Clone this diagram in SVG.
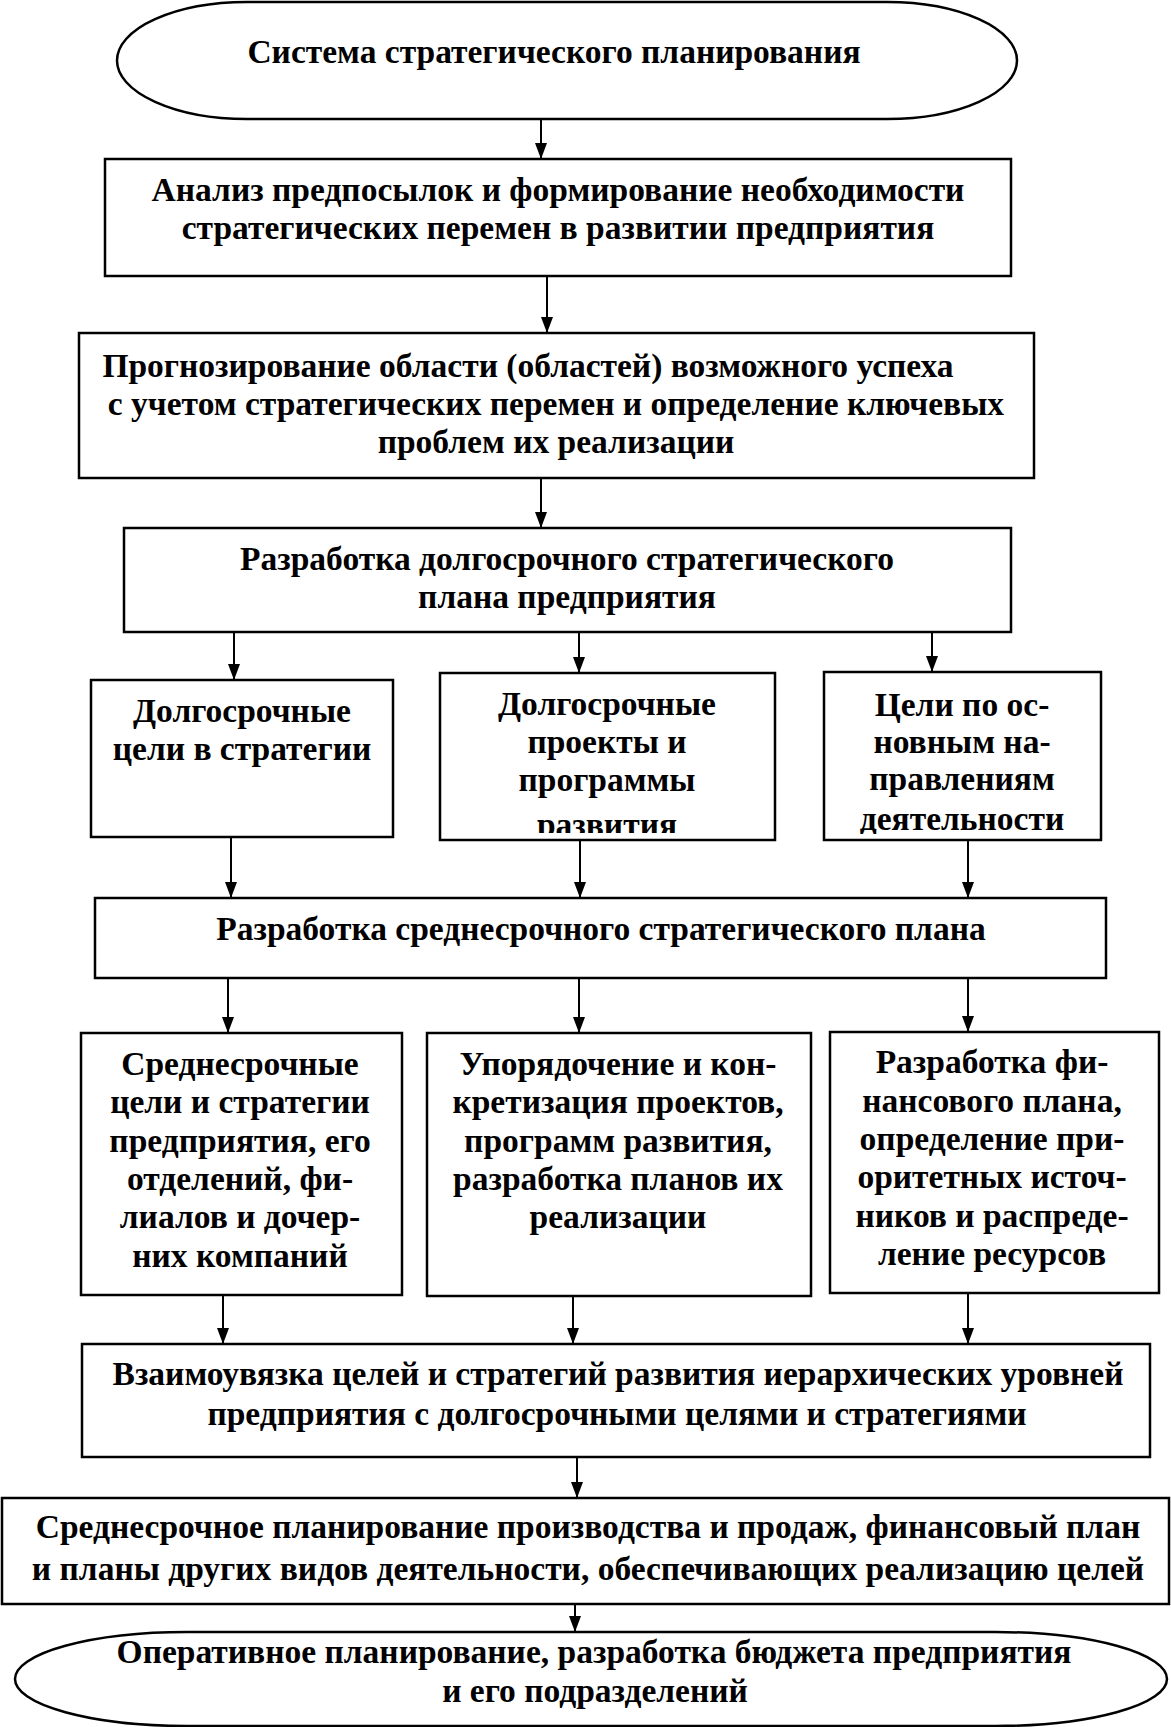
<svg xmlns="http://www.w3.org/2000/svg" width="1171" height="1727" viewBox="0 0 1171 1727">
<style>
.n{fill:#fff;stroke:#000;stroke-width:2.5}
.t{font-family:"Liberation Serif","Times New Roman",serif;font-weight:bold;font-size:33.5px;fill:#000;text-anchor:middle}
.c{stroke:#000;stroke-width:2;fill:none;marker-end:url(#ah)}
</style>
<defs>
<marker id="ah" markerUnits="userSpaceOnUse" markerWidth="16" markerHeight="12" refX="16" refY="6" orient="auto">
<path d="M0,0 L16,6 L0,12 z" fill="#000"/>
</marker>
<clipPath id="cb"><rect x="441" y="674" width="333" height="159"/></clipPath>
<clipPath id="cc"><rect x="825" y="673" width="275" height="161"/></clipPath>
</defs>
<rect width="1171" height="1727" fill="#fff"/>
<g id="connectors">
<line class="c" x1="541" y1="119" x2="541" y2="159"/>
<line class="c" x1="547" y1="276" x2="547" y2="333"/>
<line class="c" x1="541" y1="478" x2="541" y2="528"/>
<line class="c" x1="234" y1="632" x2="234" y2="680"/>
<line class="c" x1="579" y1="632" x2="579" y2="673"/>
<line class="c" x1="932" y1="632" x2="932" y2="672"/>
<line class="c" x1="231" y1="837" x2="231" y2="898"/>
<line class="c" x1="580" y1="840" x2="580" y2="898"/>
<line class="c" x1="968" y1="840" x2="968" y2="898"/>
<line class="c" x1="228" y1="978" x2="228" y2="1033"/>
<line class="c" x1="579" y1="978" x2="579" y2="1033"/>
<line class="c" x1="968" y1="978" x2="968" y2="1032"/>
<line class="c" x1="223" y1="1295" x2="223" y2="1344"/>
<line class="c" x1="573" y1="1296" x2="573" y2="1344"/>
<line class="c" x1="968" y1="1293" x2="968" y2="1344"/>
<line class="c" x1="577" y1="1457" x2="577" y2="1498"/>
<line class="c" x1="575" y1="1604" x2="575" y2="1632"/>
</g>
<g id="start">
<path class="n" d="M247,2 H887 A130,58.5 0 0 1 887,119 H247 A130,58.5 0 0 1 247,2 Z"/>
<text class="t" x="554" y="63">Система стратегического планирования</text>
</g>
<g id="analysis">
<rect class="n" x="105" y="159" width="906" height="117"/>
<text class="t" x="558" y="201">Анализ предпосылок и формирование необходимости</text>
<text class="t" x="558" y="239">стратегических перемен в развитии предприятия</text>
</g>
<g id="forecast">
<rect class="n" x="79" y="333" width="955" height="145"/>
<text class="t" x="528" y="377">Прогнозирование области (областей) возможного успеха</text>
<text class="t" x="556" y="415">с учетом стратегических перемен и определение ключевых</text>
<text class="t" x="556" y="453">проблем их реализации</text>
</g>
<g id="longplan">
<rect class="n" x="124" y="528" width="887" height="104"/>
<text class="t" x="567" y="570">Разработка долгосрочного стратегического</text>
<text class="t" x="567" y="608">плана предприятия</text>
</g>
<g id="longgoals">
<rect class="n" x="91" y="680" width="302" height="157"/>
<text class="t" x="242" y="722">Долгосрочные</text>
<text class="t" x="242" y="760">цели в стратегии</text>
</g>
<g id="longprojects">
<rect class="n" x="440" y="673" width="335" height="167"/>
<g clip-path="url(#cb)">
<text class="t" x="607" y="715">Долгосрочные</text>
<text class="t" x="607" y="753">проекты и</text>
<text class="t" x="607" y="791">программы</text>
<text class="t" x="607" y="836">развития</text>
</g>
</g>
<g id="areagoals">
<rect class="n" x="824" y="672" width="277" height="168"/>
<g clip-path="url(#cc)">
<text class="t" x="962" y="716">Цели по ос-</text>
<text class="t" x="962" y="753">новным на-</text>
<text class="t" x="962" y="790">правлениям</text>
<text class="t" x="962" y="830">деятельности</text>
</g>
</g>
<g id="midplan">
<rect class="n" x="95" y="898" width="1011" height="80"/>
<text class="t" x="601" y="940">Разработка среднесрочного стратегического плана</text>
</g>
<g id="midgoals">
<rect class="n" x="81" y="1033" width="321" height="262"/>
<text class="t" x="240" y="1075">Среднесрочные</text>
<text class="t" x="240" y="1113">цели и стратегии</text>
<text class="t" x="240" y="1152">предприятия, его</text>
<text class="t" x="240" y="1190">отделений, фи-</text>
<text class="t" x="240" y="1228">лиалов и дочер-</text>
<text class="t" x="240" y="1267">них компаний</text>
</g>
<g id="ordering">
<rect class="n" x="427" y="1033" width="384" height="263"/>
<text class="t" x="618" y="1075">Упорядочение и кон-</text>
<text class="t" x="618" y="1113">кретизация проектов,</text>
<text class="t" x="618" y="1152">программ развития,</text>
<text class="t" x="618" y="1190">разработка планов их</text>
<text class="t" x="618" y="1228">реализации</text>
</g>
<g id="finplan">
<rect class="n" x="830" y="1032" width="329" height="261"/>
<text class="t" x="992" y="1073">Разработка фи-</text>
<text class="t" x="992" y="1112">нансового плана,</text>
<text class="t" x="992" y="1150">определение при-</text>
<text class="t" x="992" y="1188">оритетных источ-</text>
<text class="t" x="992" y="1227">ников и распреде-</text>
<text class="t" x="992" y="1265">ление ресурсов</text>
</g>
<g id="linking">
<rect class="n" x="82" y="1344" width="1068" height="113"/>
<text class="t" x="618" y="1385">Взаимоувязка целей и стратегий развития иерархических уровней</text>
<text class="t" x="617" y="1425">предприятия с долгосрочными целями и стратегиями</text>
</g>
<g id="midterm">
<rect class="n" x="2" y="1498" width="1167" height="106"/>
<text class="t" x="588" y="1538">Среднесрочное планирование производства и продаж, финансовый план</text>
<text class="t" x="588" y="1580">и планы других видов деятельности, обеспечивающих реализацию целей</text>
</g>
<g id="operative">
<path class="n" d="M187,1632 H995 A172,47 0 0 1 995,1726 H187 A172,47 0 0 1 187,1632 Z"/>
<text class="t" x="594" y="1663">Оперативное планирование, разработка бюджета предприятия</text>
<text class="t" x="595" y="1702">и его подразделений</text>
</g>
</svg>
